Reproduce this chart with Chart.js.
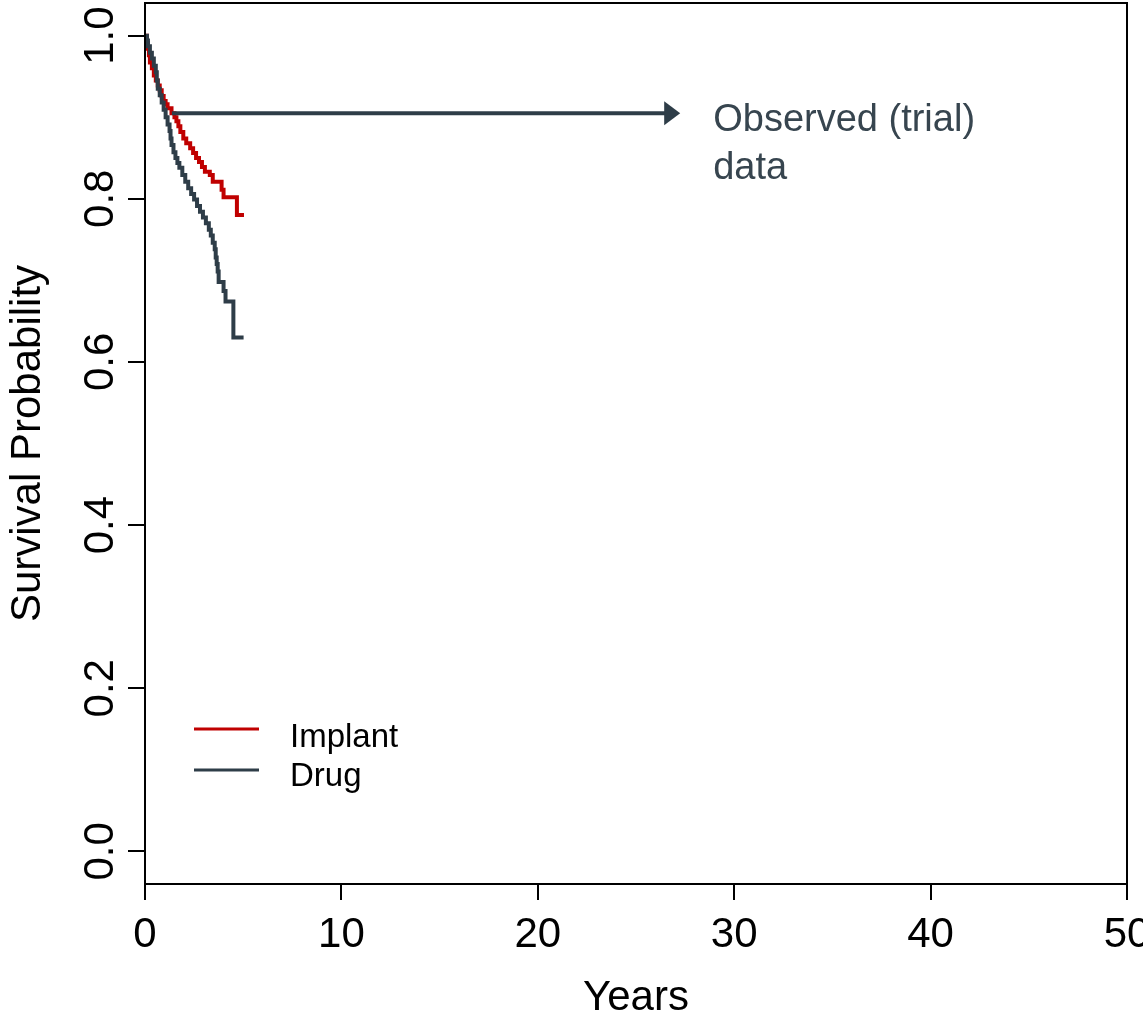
<!DOCTYPE html>
<html>
<head>
<meta charset="utf-8">
<title>Survival</title>
<script src="https://cdn.jsdelivr.net/npm/chart.js@4.4.1/dist/chart.umd.min.js"></script>
<style>
html, body { margin: 0; padding: 0; background: #fff; }
</style>
</head>
<body>
<canvas id="myChart" width="1143" height="1024"></canvas>
<script>
// curvas Kaplan-Meier (tiempo en años, supervivencia)
const implanteTiempo = [0, 0.1, 0.15, 0.2, 0.25, 0.35, 0.45, 0.55, 0.65, 0.75, 0.85, 0.95, 1.05, 1.15, 1.35, 1.5, 1.6, 1.7, 1.8, 1.95, 2.1, 2.3, 2.45, 2.6, 2.75, 2.9, 3.05, 3.3, 3.45, 3.9, 4.0, 4.68, 5.04];
const implanteSuperv = [1.0, 0.991, 0.984, 0.976, 0.967, 0.96, 0.951, 0.945, 0.939, 0.933, 0.926, 0.92, 0.916, 0.911, 0.905, 0.9, 0.895, 0.889, 0.882, 0.874, 0.868, 0.862, 0.856, 0.85, 0.845, 0.839, 0.833, 0.829, 0.821, 0.811, 0.802, 0.78, 0.78];

const drogaTiempo = [0, 0.1, 0.15, 0.25, 0.35, 0.45, 0.55, 0.6, 0.65, 0.75, 0.85, 0.95, 1.05, 1.15, 1.25, 1.3, 1.35, 1.45, 1.55, 1.65, 1.75, 1.9, 2.05, 2.2, 2.35, 2.5, 2.65, 2.8, 2.95, 3.1, 3.25, 3.35, 3.45, 3.55, 3.6, 3.65, 3.7, 3.75, 4.0, 4.1, 4.5, 5.02];
const drogaSuperv = [1.0, 0.994, 0.987, 0.979, 0.972, 0.963, 0.955, 0.945, 0.935, 0.927, 0.918, 0.909, 0.9, 0.891, 0.883, 0.874, 0.866, 0.857, 0.85, 0.844, 0.838, 0.829, 0.821, 0.813, 0.806, 0.799, 0.791, 0.784, 0.777, 0.77, 0.762, 0.755, 0.746, 0.738, 0.728, 0.72, 0.711, 0.698, 0.687, 0.674, 0.63, 0.63];

const nombresSeries = ['Implant', 'Drug'];
const coloresSeries = ['#C00000', '#2E3D48'];

const ticksX = [0, 10, 20, 30, 40, 50];
const ticksY = [0.0, 0.2, 0.4, 0.6, 0.8, 1.0];

// flecha de la anotacion (en unidades de datos)
const flechaInicio = [1.37, 0.905];
const flechaFin = [27.25, 0.905];
const notaLineas = ['Observed (trial)', 'data'];

const fuente = 'Arial, "Liberation Sans", sans-serif';

function armarPuntos(tiempos, valores) {
    return tiempos.map((t, i) => ({ x: t, y: valores[i] }));
}

const extrasPlugin = {
    id: 'extras',
    afterDraw(chart) {
        const ctx = chart.ctx;
        const area = chart.chartArea;
        const sx = chart.scales.x;
        const sy = chart.scales.y;

        ctx.save();

        // caja alrededor del area
        ctx.strokeStyle = '#000';
        ctx.lineWidth = 2;
        ctx.strokeRect(area.left, area.top, area.right - area.left, area.bottom - area.top);

        // etiquetas del eje y, giradas como en R
        ctx.fillStyle = '#000';
        ctx.font = '42px ' + fuente;
        ctx.textAlign = 'center';
        ctx.textBaseline = 'alphabetic';
        ticksY.forEach(v => {
            ctx.save();
            ctx.translate(113, sy.getPixelForValue(v));
            ctx.rotate(-Math.PI / 2);
            ctx.fillText(v.toFixed(1), 0, 0);
            ctx.restore();
        });

        // leyenda
        ctx.font = '33px ' + fuente;
        ctx.textAlign = 'left';
        nombresSeries.forEach((nombre, i) => {
            const yLinea = 729 + i * 41;
            ctx.strokeStyle = coloresSeries[i];
            ctx.lineWidth = 3;
            ctx.beginPath();
            ctx.moveTo(194, yLinea);
            ctx.lineTo(259, yLinea);
            ctx.stroke();
            ctx.fillStyle = '#000';
            ctx.fillText(nombre, 290, 747 + i * 39);
        });

        // flecha
        const x0 = sx.getPixelForValue(flechaInicio[0]);
        const y0 = sy.getPixelForValue(flechaInicio[1]);
        const x1 = sx.getPixelForValue(flechaFin[0]);
        const y1 = sy.getPixelForValue(flechaFin[1]);
        ctx.strokeStyle = coloresSeries[1];
        ctx.fillStyle = coloresSeries[1];
        ctx.lineWidth = 4;
        ctx.beginPath();
        ctx.moveTo(x0, y0);
        ctx.lineTo(x1 - 14, y1);
        ctx.stroke();
        ctx.beginPath();
        ctx.moveTo(x1, y1);
        ctx.lineTo(x1 - 16, y1 - 12);
        ctx.lineTo(x1 - 16, y1 + 12);
        ctx.closePath();
        ctx.fill();

        // texto de la nota
        ctx.fillStyle = '#37454F';
        ctx.font = '38px ' + fuente;
        notaLineas.forEach((linea, i) => {
            ctx.fillText(linea, x1 + 33, y1 + 18 + i * 48);
        });

        ctx.restore();
    }
};

const ctx = document.getElementById('myChart').getContext('2d');

const myChart = new Chart(ctx, {
    type: 'line',
    data: {
        datasets: nombresSeries.map((nombre, i) => ({
            label: nombre,
            data: i === 0 ? armarPuntos(implanteTiempo, implanteSuperv) : armarPuntos(drogaTiempo, drogaSuperv),
            borderColor: coloresSeries[i],
            backgroundColor: coloresSeries[i],
            borderWidth: 4,
            pointRadius: 0,
            stepped: 'before',
            fill: false
        })).reverse()
    },
    options: {
        responsive: false,
        animation: false,
        devicePixelRatio: 1,
        layout: { padding: { left: 0, top: 3, right: 16, bottom: 0 } },
        plugins: {
            legend: { display: false },
            tooltip: { enabled: false }
        },
        scales: {
            x: {
                type: 'linear',
                min: 0,
                max: 50,
                afterBuildTicks: scale => { scale.ticks = ticksX.map(v => ({ value: v })); },
                afterFit: scale => {
                    scale.height = 140;
                    scale.paddingLeft = 0;
                    scale.paddingRight = 0;
                },
                grid: { drawOnChartArea: false, drawTicks: true, tickLength: 16, color: '#000', lineWidth: 2 },
                border: { display: true, color: '#000', width: 2 },
                ticks: {
                    padding: 10,
                    color: '#000',
                    maxRotation: 0,
                    autoSkip: false,
                    font: { family: fuente, size: 42 },
                    callback: v => String(v)
                },
                title: {
                    display: true,
                    text: 'Years',
                    color: '#000',
                    font: { family: fuente, size: 42 },
                    padding: { top: 0, bottom: 0 }
                }
            },
            y: {
                type: 'linear',
                min: -0.04,
                max: 1.04,
                afterBuildTicks: scale => { scale.ticks = ticksY.map(v => ({ value: v })); },
                afterFit: scale => {
                    scale.width = 145;
                    scale.paddingTop = 0;
                    scale.paddingBottom = 0;
                },
                grid: { drawOnChartArea: false, drawTicks: true, tickLength: 17, color: '#000', lineWidth: 2 },
                border: { display: true, color: '#000', width: 2 },
                ticks: { display: false },
                title: {
                    display: true,
                    text: 'Survival Probability',
                    color: '#000',
                    font: { family: fuente, size: 42 },
                    padding: { top: 3, bottom: 0 }
                }
            }
        }
    },
    plugins: [extrasPlugin]
});
</script>
</body>
</html>
